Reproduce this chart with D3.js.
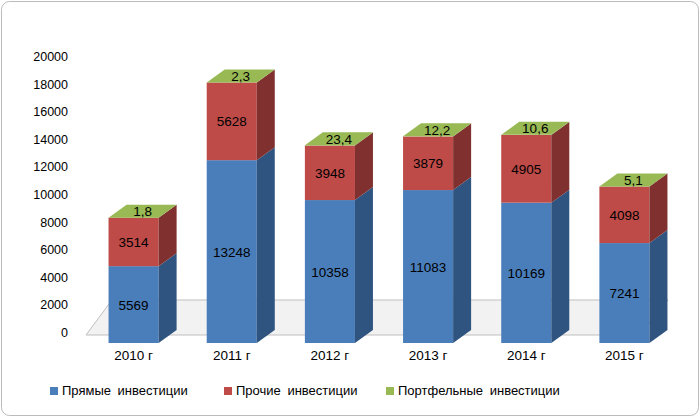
<!DOCTYPE html><html><head><meta charset="utf-8">
<script src="https://cdn.jsdelivr.net/npm/d3@7"></script>
<style>body{margin:0;background:#fff}text{font-family:"Liberation Sans",Arial,sans-serif}</style></head><body>
<svg id="c" width="700" height="417"></svg>
<script>
const categories=["2010 г","2011 г","2012 г","2013 г","2014 г","2015 г"];
const direct=[5569,13248,10358,11083,10169,7241];
const other=[3514,5628,3948,3879,4905,4098];
const portfolio=[1.8,2.3,23.4,12.2,10.6,5.1];
const portfolioLabels=["1,8","2,3","23,4","12,2","10,6","5,1"];
const seriesNames=["Прямые инвестиции","Прочие инвестиции","Портфельные инвестиции"];
const yTicks=[0,2000,4000,6000,8000,10000,12000,14000,16000,18000,20000];
const frontCol=["#4a7ebb","#be4b48","#98b954"],sideCol=["#2f5480","#80302e","#66802f"],topCol=["#6d97cc","#d06a67","#98b954"];
const svg=d3.select("#c");
svg.append("rect").attr("x",1.5).attr("y",1.5).attr("width",697).attr("height",414).attr("rx",8).attr("fill","#fff").attr("stroke","#bbb");
const y=d3.scaleLinear().domain([0,20000]).range([333,57]);
const x=d3.scaleBand().domain(categories).range([84,674]).paddingInner(0.49).paddingOuter(0.25);
const dx=18,dy=-13,base=10;
svg.append("polygon").attr("points",[[86,335],[640,335],[668,300],[112,300]].join(" ")).attr("fill","#f2f2f2").attr("stroke","#bfbfbf");
svg.selectAll(".yt").data(yTicks).join("text").attr("x",68).attr("y",d=>y(d)+4).attr("text-anchor","end").attr("font-size",12.5).text(d=>d);
const series=[direct,other,portfolio];
categories.forEach((c,i)=>{
  let cum=0;const x0=x(c),w=x.bandwidth();
  series.forEach((s,k)=>{
    const v=s[i];const yb=y(cum)+base,yt=y(cum+v)+base;cum+=v;
    svg.append("rect").attr("x",x0).attr("y",yt).attr("width",w).attr("height",yb-yt).attr("fill",frontCol[k]);
    svg.append("polygon").attr("points",[[x0+w,yb],[x0+w+dx,yb+dy],[x0+w+dx,yt+dy],[x0+w,yt]].join(" ")).attr("fill",sideCol[k]);
    if(k==2){
      svg.append("polygon").attr("points",[[x0,yt],[x0+dx,yt+dy],[x0+w+dx,yt+dy],[x0+w,yt]].join(" ")).attr("fill",topCol[k]);
      svg.append("text").attr("x",x0+w/2+dx/2).attr("y",yt+dy/2+5).attr("text-anchor","middle").attr("font-size",13.5).text(portfolioLabels[i]);
    } else {
      svg.append("text").attr("x",x0+w/2).attr("y",(yb+yt)/2+5).attr("text-anchor","middle").attr("font-size",13.5).text(v);
    }
  });
});
svg.selectAll(".xt").data(categories).join("text").attr("x",d=>x(d)+x.bandwidth()/2).attr("y",360).attr("text-anchor","middle").attr("font-size",13.5).text(d=>d);
const lx=[50,224,386];
seriesNames.forEach((n,k)=>{
  svg.append("rect").attr("x",lx[k]).attr("y",387).attr("width",8).attr("height",8).attr("fill",frontCol[k]);
  svg.append("text").attr("x",lx[k]+12).attr("y",395).attr("font-size",13).attr("word-spacing",3).text(n);
});
</script></body></html>
